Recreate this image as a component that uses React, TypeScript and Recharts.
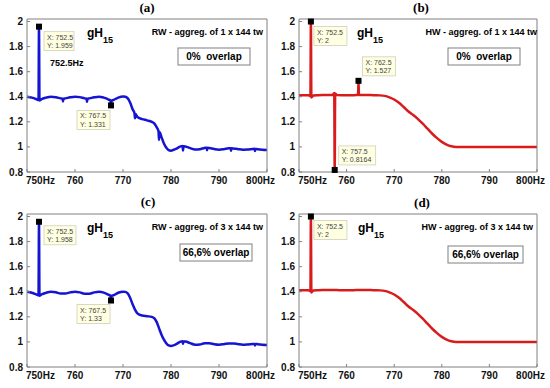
import React from "react";
import { Line, LineChart, ReferenceDot, XAxis, YAxis } from "recharts";

// axes
const xTicks = [750, 760, 770, 780, 790, 800];
const xTickLabels = ["750Hz", "760", "770", "780", "790", "800Hz"];
const yTicks = [0.8, 1, 1.2, 1.4, 1.6, 1.8, 2];

const panelTitles = ["(a)", "(b)", "(c)", "(d)"];
const methodLabels = [
  "RW - aggreg. of 1 x 144 tw",
  "HW - aggreg. of 1 x 144 tw",
  "RW - aggreg. of 3 x 144 tw",
  "HW - aggreg. of 3 x 144 tw",
];
const overlapLabels = ["0%  overlap", "0%  overlap", "66,6% overlap", "66,6% overlap"];
const peakNote = "752.5Hz";

// (a) RW, 1 x 144 tw, 0% overlap
const rw1Freq = [
  750, 751, 752, 752.4, 752.5, 752.6, 753, 754, 755, 756,
  757, 757.4, 757.5, 757.6, 758, 759, 760, 761, 762, 762.4,
  762.5, 762.6, 763, 764, 765, 766, 767, 767.4, 767.5, 767.6,
  768, 769, 770, 770.5, 771, 771.5, 772, 772.4, 772.5, 772.6,
  773, 774, 775, 776, 776.5, 777, 777.4, 777.5, 777.6, 778,
  778.5, 779, 779.5, 780, 781, 782, 782.4, 782.5, 782.6, 783,
  784, 785, 786, 787, 787.4, 787.5, 787.6, 788, 789, 790,
  791, 792, 792.4, 792.5, 792.6, 793, 794, 795, 796, 797,
  797.4, 797.5, 797.6, 798, 799, 800,
];
const rw1Gain = [
  1.4, 1.393, 1.38, 1.374, 1.959, 1.37, 1.38, 1.393, 1.4, 1.396,
  1.387, 1.384, 1.362, 1.384, 1.387, 1.396, 1.401, 1.397, 1.387, 1.384,
  1.36, 1.384, 1.387, 1.396, 1.401, 1.393, 1.378, 1.37, 1.331, 1.37,
  1.374, 1.393, 1.402, 1.4, 1.387, 1.352, 1.3, 1.268, 1.228, 1.262,
  1.238, 1.222, 1.212, 1.2, 1.188, 1.158, 1.126, 1.055, 1.118, 1.08,
  1.03, 0.995, 0.975, 0.97, 0.984, 1.004, 1.007, 0.972, 1.006, 1.004,
  0.99, 0.979, 0.982, 0.992, 0.994, 0.974, 0.993, 0.991, 0.983, 0.978,
  0.982, 0.989, 0.99, 0.97, 0.989, 0.988, 0.982, 0.978, 0.979, 0.984,
  0.985, 0.967, 0.984, 0.982, 0.978, 0.976,
];
const rw1Tips = [
  { x: 752.5, y: 1.959 },
  { x: 767.5, y: 1.331 },
];

// (b) HW, 1 x 144 tw, 0% overlap
const hw1Freq = [
  750, 751, 752, 752.4, 752.5, 752.6, 753, 754, 755, 756,
  757, 757.4, 757.5, 757.6, 758, 759, 760, 761, 762, 762.4,
  762.5, 762.6, 763, 764, 765, 766, 767, 768, 769, 770,
  771, 772, 773, 774, 775, 776, 777, 778, 779, 780,
  781, 782, 783, 785, 790, 795, 800,
];
const hw1Gain = [
  1.412, 1.412, 1.412, 1.405, 2, 1.395, 1.41, 1.412, 1.413, 1.413,
  1.413, 1.43, 0.8164, 1.425, 1.413, 1.412, 1.412, 1.412, 1.413, 1.413,
  1.527, 1.413, 1.413, 1.413, 1.413, 1.412, 1.411, 1.407, 1.395, 1.378,
  1.352, 1.318, 1.282, 1.254, 1.222, 1.185, 1.145, 1.105, 1.07, 1.04,
  1.018, 1.005, 1.0, 1.0, 1.0, 1.0, 1.0,
];
const hw1Tips = [
  { x: 752.5, y: 2 },
  { x: 757.5, y: 0.8164 },
  { x: 762.5, y: 1.527 },
];

// (c) RW, 3 x 144 tw, 66.6% overlap
const rw3Freq = [
  750, 751, 752, 752.4, 752.5, 752.6, 753, 754, 755, 756,
  757, 758, 759, 760, 761, 762, 763, 764, 765, 766,
  767, 767.4, 767.5, 767.6, 768, 769, 770, 770.5, 771, 771.5,
  772, 772.5, 773, 774, 775, 776, 776.5, 777, 777.5, 778,
  778.5, 779, 779.5, 780, 781, 782, 782.4, 782.5, 782.6, 783,
  784, 785, 786, 787, 788, 789, 790, 791, 792, 793,
  794, 795, 796, 797, 797.4, 797.5, 797.6, 798, 799, 800,
];
const rw3Gain = [
  1.4, 1.392, 1.378, 1.372, 1.958, 1.368, 1.378, 1.392, 1.4, 1.396,
  1.386, 1.386, 1.395, 1.4, 1.395, 1.385, 1.385, 1.395, 1.4, 1.393,
  1.376, 1.368, 1.33, 1.368, 1.372, 1.392, 1.401, 1.399, 1.386, 1.35,
  1.3, 1.258, 1.228, 1.21, 1.205, 1.2, 1.19, 1.16, 1.11, 1.06,
  1.02, 0.99, 0.972, 0.968, 0.98, 1.002, 1.005, 0.986, 1.004, 1.003,
  0.99, 0.978, 0.98, 0.99, 0.99, 0.982, 0.978, 0.982, 0.988, 0.988,
  0.982, 0.978, 0.98, 0.983, 0.984, 0.972, 0.984, 0.982, 0.978, 0.976,
];
const rw3Tips = [
  { x: 752.5, y: 1.958 },
  { x: 767.5, y: 1.33 },
];

// (d) HW, 3 x 144 tw, 66.6% overlap
const hw3Freq = [
  750, 751, 752, 752.4, 752.5, 752.6, 753, 754, 755, 756,
  757, 758, 759, 760, 761, 762, 763, 764, 765, 766,
  767, 768, 769, 770, 771, 772, 773, 774, 775, 776,
  777, 778, 779, 780, 781, 782, 783, 785, 790, 795, 800,
];
const hw3Gain = [
  1.412, 1.412, 1.412, 1.405, 2, 1.395, 1.41, 1.412, 1.413, 1.413,
  1.413, 1.413, 1.412, 1.412, 1.412, 1.413, 1.413, 1.413, 1.413, 1.412,
  1.411, 1.407, 1.395, 1.378, 1.352, 1.318, 1.282, 1.254, 1.222, 1.185,
  1.145, 1.105, 1.07, 1.04, 1.018, 1.005, 1.0, 1.0, 1.0, 1.0, 1.0,
];
const hw3Tips = [{ x: 752.5, y: 2 }];

const PANEL_W = 275;
const PANEL_H = 194;
const Y_DOMAIN: [number, number] = [0.8, 2.02];
const FRAME = "#808080";
const SANS = "'Liberation Sans', Arial, sans-serif";
const BLUE = "#1414d2";
const RED = "#d81c1c";

type Tip = { x: number; y: number };

type PanelLayout = {
  left: number;
  top: number;
  yW: number;
  rW: number;
  tH: number;
  bH: number;
  titleX: number;
  titleY: number;
  gX: number;
  gY: number;
  methodX: number;
  methodY: number;
  boxX: number;
  boxY: number;
  boxW: number;
  note?: boolean;
  // [dx, dy, width] of each datatip box, relative to its marker
  tipBoxes: number[][];
};

function XTick(props: any) {
  const { x, y, payload } = props;
  const i = xTicks.indexOf(payload.value);
  let anchor = "middle";
  let tx = x;
  if (i === 0) {
    anchor = "start";
    tx = x - 1;
  } else if (i === xTicks.length - 1) {
    anchor = "end";
    tx = x + 8;
  }
  return (
    <text x={tx} y={y + 12} textAnchor={anchor} fontFamily={SANS} fontWeight="bold" fontSize={10} fill="#111">
      {xTickLabels[i]}
    </text>
  );
}

function YTick(props: any) {
  const { x, y, payload } = props;
  return (
    <text x={x} y={y} dy="0.35em" textAnchor="end" fontFamily={SANS} fontWeight="bold" fontSize={10} fill="#111">
      {String(payload.value)}
    </text>
  );
}

function renderTip(props: any, tip: Tip, box: number[]) {
  const { cx, cy } = props;
  if (cx == null || cy == null) return <g />;
  const [dx, dy, w] = box;
  const bx = cx + dx;
  const by = cy + dy;
  return (
    <g>
      <rect x={bx} y={by} width={w} height={19} fill="#ffffe2" stroke="#d0d0b8" strokeWidth={0.8} />
      <text x={bx + 3} y={by + 8} fontFamily={SANS} fontSize={7} fill="#444">
        {`X: ${tip.x}`}
      </text>
      <text x={bx + 3} y={by + 16.5} fontFamily={SANS} fontSize={7} fill="#444">
        {`Y: ${tip.y}`}
      </text>
      <rect x={cx - 3} y={cy - 3} width={6} height={6} fill="#000" />
    </g>
  );
}

type PanelProps = {
  index: number;
  freq: number[];
  gain: number[];
  tips: Tip[];
  color: string;
  layout: PanelLayout;
};

function Panel({ index, freq, gain, tips, color, layout }: PanelProps) {
  const data = freq.map((f, i) => ({ f, v: gain[i] }));
  const L = layout;
  return (
    <div style={{ position: "absolute", left: L.left, top: L.top, width: PANEL_W, height: PANEL_H }}>
      <LineChart width={PANEL_W} height={PANEL_H} data={data} margin={{ top: 0, right: 0, bottom: 0, left: 0 }}>
        <XAxis
          xAxisId="b"
          dataKey="f"
          type="number"
          domain={[750, 800]}
          ticks={xTicks}
          interval={0}
          allowDataOverflow
          height={L.bH}
          tickSize={-3}
          tickMargin={3}
          tick={XTick}
          axisLine={{ stroke: FRAME }}
          tickLine={{ stroke: FRAME }}
        />
        <XAxis
          xAxisId="t"
          orientation="top"
          type="number"
          domain={[750, 800]}
          ticks={xTicks}
          interval={0}
          allowDataOverflow
          height={L.tH}
          tickSize={-3}
          tick={false}
          axisLine={{ stroke: FRAME }}
          tickLine={{ stroke: FRAME }}
        />
        <YAxis
          yAxisId="l"
          type="number"
          domain={Y_DOMAIN}
          ticks={yTicks}
          interval={0}
          allowDataOverflow
          width={L.yW}
          tickSize={-3}
          tickMargin={7}
          tick={YTick}
          axisLine={{ stroke: FRAME }}
          tickLine={{ stroke: FRAME }}
        />
        <YAxis
          yAxisId="r"
          orientation="right"
          type="number"
          domain={Y_DOMAIN}
          ticks={yTicks}
          interval={0}
          allowDataOverflow
          width={L.rW}
          tickSize={-3}
          tick={false}
          axisLine={{ stroke: FRAME }}
          tickLine={{ stroke: FRAME }}
        />
        <Line
          xAxisId="b"
          yAxisId="l"
          dataKey="v"
          type="monotone"
          stroke={color}
          strokeWidth={2.5}
          dot={false}
          isAnimationActive={false}
        />
        {tips.map((t, i) => (
          <ReferenceDot
            key={i}
            xAxisId="b"
            yAxisId="l"
            x={t.x}
            y={t.y}
            r={3}
            shape={(p: any) => renderTip(p, t, L.tipBoxes[i])}
          />
        ))}
      </LineChart>
      <svg
        width={PANEL_W}
        height={PANEL_H}
        style={{ position: "absolute", left: 0, top: 0, pointerEvents: "none" }}
      >
        <text
          x={L.titleX}
          y={L.titleY}
          textAnchor="middle"
          fontFamily="'Liberation Serif', 'Times New Roman', serif"
          fontWeight="bold"
          fontSize={13}
        >
          {panelTitles[index]}
        </text>
        <text x={L.gX} y={L.gY} fontFamily={SANS} fontWeight="bold" fontSize={12}>
          gH
          <tspan dy={6} fontSize={9}>
            15
          </tspan>
        </text>
        <text x={L.methodX} y={L.methodY} textAnchor="end" fontFamily={SANS} fontWeight="bold" fontSize={9}>
          {methodLabels[index]}
        </text>
        <rect x={L.boxX} y={L.boxY} width={L.boxW} height={17} fill="#fff" stroke={FRAME} strokeWidth={1} />
        <text
          x={L.boxX + L.boxW / 2}
          y={L.boxY + 12}
          textAnchor="middle"
          fontFamily={SANS}
          fontWeight="bold"
          fontSize={10}
          style={{ whiteSpace: "pre" }}
        >
          {overlapLabels[index]}
        </text>
        {L.note && (
          <text x={50} y={66} fontFamily={SANS} fontWeight="bold" fontSize={9}>
            {peakNote}
          </text>
        )}
      </svg>
    </div>
  );
}

const layoutA: PanelLayout = {
  left: 0, top: 0, yW: 27, rW: 8, tH: 19, bH: 22,
  titleX: 147, titleY: 12, gX: 87, gY: 37, methodX: 263, methodY: 35,
  boxX: 178, boxY: 48, boxW: 72, note: true,
  tipBoxes: [[5, 5, 30], [-34, 5, 33]],
};
const layoutB: PanelLayout = {
  left: 275, top: 0, yW: 24, rW: 13, tH: 19, bH: 22,
  titleX: 146, titleY: 12, gX: 82, gY: 37, methodX: 262, methodY: 35,
  boxX: 173, boxY: 48, boxW: 72,
  tipBoxes: [[3, 5, 33], [4, -24, 37], [4, -24, 33]],
};
const layoutC: PanelLayout = {
  left: 0, top: 194, yW: 27, rW: 8, tH: 20, bH: 21,
  titleX: 148, titleY: 12, gX: 87, gY: 38, methodX: 263, methodY: 36,
  boxX: 180, boxY: 50, boxW: 72,
  tipBoxes: [[5, 4, 32], [-34, 4, 33]],
};
const layoutD: PanelLayout = {
  left: 275, top: 194, yW: 24, rW: 13, tH: 20, bH: 21,
  titleX: 147, titleY: 13, gX: 83, gY: 38, methodX: 258, methodY: 36,
  boxX: 173, boxY: 52, boxW: 75,
  tipBoxes: [[3, 4, 33]],
};

export default function App() {
  return (
    <div style={{ position: "absolute", left: 0, top: 0, width: 550, height: 388, background: "#fff" }}>
      <Panel index={0} freq={rw1Freq} gain={rw1Gain} tips={rw1Tips} color={BLUE} layout={layoutA} />
      <Panel index={1} freq={hw1Freq} gain={hw1Gain} tips={hw1Tips} color={RED} layout={layoutB} />
      <Panel index={2} freq={rw3Freq} gain={rw3Gain} tips={rw3Tips} color={BLUE} layout={layoutC} />
      <Panel index={3} freq={hw3Freq} gain={hw3Gain} tips={hw3Tips} color={RED} layout={layoutD} />
    </div>
  );
}
